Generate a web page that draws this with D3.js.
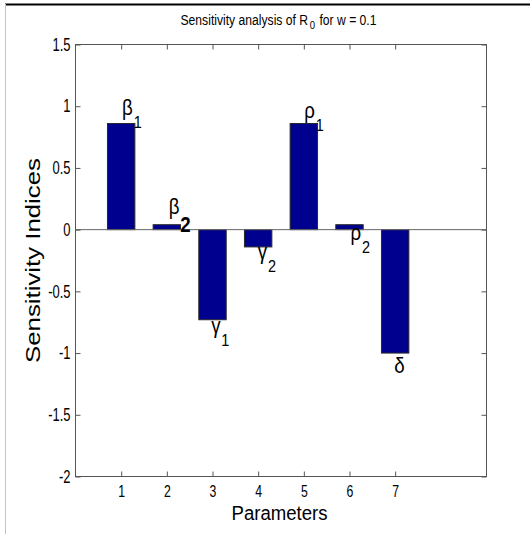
<!DOCTYPE html>
<html>
<head>
<meta charset="utf-8">
<script src="https://cdn.jsdelivr.net/npm/d3@7"></script>
<style>
  html, body { margin: 0; padding: 0; background: #fff; }
  svg { display: block; }
  text { font-family: "Liberation Sans", Arial, Helvetica, sans-serif; fill: #000; }
</style>
</head>
<body>
<svg id="chart" width="530" height="534"></svg>
<script>
// Sensitivity indices of R0 with respect to each model parameter (w = 0.1)
const parameters = [1, 2, 3, 4, 5, 6, 7];
const indices = [0.86, 0.04, -0.73, -0.14, 0.86, 0.04, -1.0];

// Parameter symbols written next to the bars, with their subscripts
const symbols = ["β", "β", "γ", "γ", "ρ", "ρ", "δ"];
const subscripts = ["1", "2", "1", "2", "1", "2", ""];
// Where each symbol is written, in axis units (parameter, index)
const symbolX = [1.02, 2.04, 2.97, 3.99, 5.01, 6.02, 6.98];
const symbolY = [0.925, 0.127, -0.837, -0.235, 0.904, -0.087, -1.162];

const xTicks = [1, 2, 3, 4, 5, 6, 7];
const xTickLabels = ["1", "2", "3", "4", "5", "6", "7"];
const yTicks = [-2, -1.5, -1, -0.5, 0, 0.5, 1, 1.5];
const yTickLabels = ["-2", "-1.5", "-1", "-0.5", "0", "0.5", "1", "1.5"];

const svg = d3.select("#chart");

// figure frame
svg.append("line").attr("x1", 5).attr("x2", 530).attr("y1", 4.5).attr("y2", 4.5)
  .attr("stroke", "#000").attr("stroke-width", 2);
svg.append("line").attr("x1", 5.5).attr("x2", 5.5).attr("y1", 4).attr("y2", 534)
  .attr("stroke", "#c4c4c4").attr("stroke-width", 1);

const plotLeft = 75.5, plotRight = 486.5, plotTop = 44.5, plotBottom = 476.5;
const x = d3.scaleLinear().domain([0, 9]).range([plotLeft, plotRight]);
const y = d3.scaleLinear().domain([-2, 1.5]).range([plotBottom, plotTop]);
const barWidth = 0.6;
const axisColor = "#555";

// bars
svg.append("g").selectAll("rect")
  .data(parameters.map((p, i) => ({ p, v: indices[i] })))
  .join("rect")
  .attr("x", d => x(d.p - barWidth / 2))
  .attr("width", d => x(d.p + barWidth / 2) - x(d.p - barWidth / 2))
  .attr("y", d => y(Math.max(0, d.v)))
  .attr("height", d => Math.abs(y(d.v) - y(0)))
  .attr("fill", "#00008f")
  .attr("stroke", "#2a2a2a")
  .attr("stroke-width", 1);

// zero baseline
svg.append("line")
  .attr("x1", plotLeft).attr("x2", plotRight)
  .attr("y1", y(0)).attr("y2", y(0))
  .attr("stroke", "#666").attr("stroke-width", 1);

function styleAxis(g) {
  g.select(".domain").remove();
  g.selectAll(".tick line").attr("stroke", axisColor);
}

const sxTick = 0.72;

// left axis
svg.append("g")
  .attr("transform", `translate(${plotLeft},0)`)
  .call(d3.axisLeft(y).tickValues(yTicks)
    .tickFormat((d, i) => yTickLabels[i]).tickSize(-5).tickSizeOuter(0).tickPadding(5))
  .call(styleAxis)
  .call(g => g.selectAll(".tick text")
    .attr("font-size", 18)
    .attr("font-family", "Liberation Sans, Arial, sans-serif")
    .attr("fill", "#111")
    .attr("x", -5 / sxTick)
    .attr("transform", `scale(${sxTick},1)`));

// bottom axis
svg.append("g")
  .attr("transform", `translate(0,${plotBottom})`)
  .call(d3.axisBottom(x).tickValues(xTicks)
    .tickFormat((d, i) => xTickLabels[i]).tickSize(-5).tickSizeOuter(0).tickPadding(8.5))
  .call(styleAxis)
  .call(g => g.selectAll(".tick text")
    .attr("font-size", 17)
    .attr("font-family", "Liberation Sans, Arial, sans-serif")
    .attr("fill", "#111")
    .attr("transform", `scale(${sxTick},1)`)
    .attr("x", 0));

// top and right axes (ticks only)
svg.append("g")
  .attr("transform", `translate(0,${plotTop})`)
  .call(d3.axisTop(x).tickValues(xTicks).tickFormat("").tickSize(-5).tickSizeOuter(0))
  .call(styleAxis);
svg.append("g")
  .attr("transform", `translate(${plotRight},0)`)
  .call(d3.axisRight(y).tickValues(yTicks).tickFormat("").tickSize(-5).tickSizeOuter(0))
  .call(styleAxis);

// axes box
svg.append("rect")
  .attr("x", plotLeft).attr("y", plotTop)
  .attr("width", plotRight - plotLeft).attr("height", plotBottom - plotTop)
  .attr("fill", "none").attr("stroke", axisColor).attr("stroke-width", 1);

// parameter symbols
const sxSym = 0.85;
const symG = svg.append("g");
symbols.forEach((s, i) => {
  const t = symG.append("text")
    .attr("transform", `translate(${x(symbolX[i])},${y(symbolY[i])}) scale(${sxSym},1)`)
    .attr("font-size", 22);
  t.append("tspan").text(s);
  if (subscripts[i]) {
    const boldSub = i === 1;
    t.append("tspan")
      .attr("dx", 1)
      .attr("dy", boldSub ? 18 : 13)
      .attr("font-size", boldSub ? 22 : 17)
      .attr("font-weight", boldSub ? "bold" : "normal")
      .text(subscripts[i]);
  }
});

// title
const title = svg.append("text")
  .attr("x", 180.5).attr("y", 25)
  .attr("font-size", 14)
  .attr("textLength", 196)
  .attr("lengthAdjust", "spacingAndGlyphs");
title.append("tspan").text("Sensitivity analysis of R");
title.append("tspan").attr("font-size", 11).attr("dx", 2).attr("dy", 4).text("0");
title.append("tspan").attr("dx", 5).attr("dy", -4).text("for w = 0.1");

// axis labels
svg.append("text")
  .attr("x", 231.5).attr("y", 520)
  .attr("font-size", 20)
  .attr("textLength", 96)
  .attr("lengthAdjust", "spacingAndGlyphs")
  .text("Parameters");

svg.append("text")
  .attr("transform", "translate(39.5,260.5) rotate(-90)")
  .attr("text-anchor", "middle")
  .attr("font-size", 20)
  .attr("textLength", 205)
  .attr("lengthAdjust", "spacingAndGlyphs")
  .text("Sensitivity Indices");
</script>
</body>
</html>
